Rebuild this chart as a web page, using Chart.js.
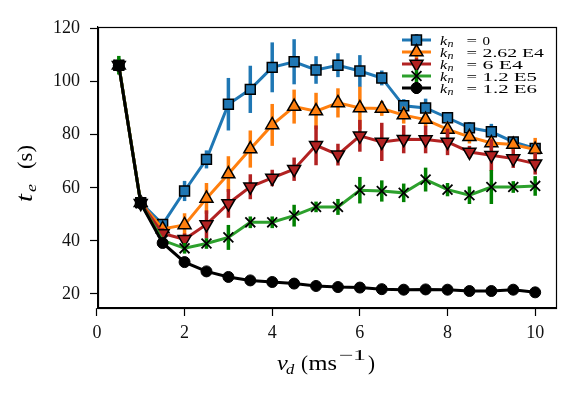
<!DOCTYPE html>
<html><head><meta charset="utf-8">
<script src="https://cdn.jsdelivr.net/npm/chart.js@4/dist/chart.umd.min.js"></script>
<style>html,body{margin:0;padding:0;background:#fff}canvas{display:block}</style>
</head><body>
<canvas id="c" width="581" height="394" style="width:581px;height:394px"></canvas>
<script>
// ---- data ----
const vd = [0.5,1,1.5,2,2.5,3,3.5,4,4.5,5,5.5,6,6.5,7,7.5,8,8.5,9,9.5,10];
const kLabels = ['0', '2.62 E4', '6 E4', '1.2 E5', '1.2 E6'];
const te_k0     = [106.2,54.4,46.2,58.8,70.7,91.5,97.1,105.4,107.5,104.4,106.2,104.0,101.4,90.9,90.1,86.4,82.6,81.1,77.3,74.8];
const err_k0    = [1.5,1.2,1.5,3.8,3.4,9.9,8.9,9.4,8.5,5.2,4.5,6.0,2.8,2.5,3.5,1.5,2.2,3.0,1.3,1.5];
const te_k262e4 = [106.2,54.4,44.5,46.0,56.0,65.2,74.6,83.7,90.6,88.9,92.0,90.1,89.9,87.4,85.7,82.0,79.2,76.9,76.3,74.4];
const err_k262e4= [1.0,1.0,1.5,4.4,5.8,6.7,7.0,7.9,6.4,6.9,5.5,8.0,2.8,3.2,2.6,2.8,2.5,2.5,2.2,4.4];
const te_k6e4   = [106.2,54.2,42.8,40.6,46.2,54.1,60.4,63.7,67.0,76.0,72.5,79.6,77.3,78.3,78.2,77.3,73.5,72.3,71.0,69.1];
const err_k6e4  = [1.0,1.0,2.0,2.2,5.3,5.4,4.7,3.1,4.4,7.5,4.1,6.0,7.2,5.3,5.2,5.0,2.3,6.0,3.5,4.1];
const te_k12e5  = [106.2,54.2,40.2,37.2,39.0,41.3,47.0,47.0,49.5,52.8,52.8,59.1,58.8,58.1,63.1,59.3,57.2,60.3,60.3,60.7];
const err_k12e5 = [3.5,1.0,1.0,2.0,2.0,4.7,2.2,2.2,4.1,2.0,3.0,5.0,4.0,3.5,4.5,2.5,3.3,6.4,2.2,3.7];
const te_k12e6  = [106.0,54.2,39.2,32.0,28.5,26.4,25.1,24.5,23.9,23.0,22.6,22.4,21.8,21.6,21.7,21.6,21.1,21.1,21.6,20.6];
const err_k12e6 = [0.6,0.5,0.5,0.5,0.5,0.5,0.5,0.5,0.5,0.5,0.5,0.5,0.5,0.5,0.5,0.5,0.5,0.5,0.5,0.5];
const xTicks = [0,2,4,6,8,10];
const yTicks = [20,40,60,80,100,120];

// ---- styles ----
const seriesVals = [te_k0, te_k262e4, te_k6e4, te_k12e5, te_k12e6];
const seriesErrs = [err_k0, err_k262e4, err_k6e4, err_k12e5, err_k12e6];
const lineColors = ['#1f77b4','#ff7f0e','#b22222','#2ca02c','#000000'];
const errColors  = ['#1f77b4','#ff7f0e','#b22222','#008000','#000000'];
const marker = [
  {pointStyle:'rect', rotation:0, radius:7, fill:'#1f77b4', bw:1.5},
  {pointStyle:'triangle', rotation:0, radius:7.5, fill:'#ff7f0e', bw:1.5},
  {pointStyle:'triangle', rotation:180, radius:7.5, fill:'#b22222', bw:1.5},
  {pointStyle:'crossRot', rotation:0, radius:7, fill:'#000000', bw:1.8},
  {pointStyle:'circle', rotation:0, radius:5.5, fill:'#000000', bw:1}
];

const datasets = seriesVals.map((vals, i) => ({
  data: vd.map((x, j) => ({x: x, y: vals[j]})),
  borderColor: lineColors[i],
  borderWidth: 3,
  tension: 0,
  fill: false,
  pointStyle: marker[i].pointStyle,
  rotation: marker[i].rotation,
  pointRadius: marker[i].radius,
  pointBackgroundColor: marker[i].fill,
  pointBorderColor: '#000000',
  pointBorderWidth: marker[i].bw,
  order: 5 - i,
  clip: false
}));

const SERIF = '"Liberation Serif", "DejaVu Serif", serif';

function fitText(ctx, s, x0, x1, y, font) {
  ctx.save();
  ctx.font = font;
  const w = ctx.measureText(s).width;
  const sx = (x1 - x0) / w;
  ctx.translate(x0, y);
  ctx.scale(sx, 1);
  ctx.fillText(s, 0, 0);
  ctx.restore();
}
function plainText(ctx, s, x, y, font, sx) {
  ctx.save();
  ctx.font = font;
  ctx.translate(x, y);
  ctx.scale(sx || 1, 1);
  ctx.fillText(s, 0, 0);
  ctx.restore();
}

function drawMarker(ctx, i, x, y) {
  const m = marker[i];
  ctx.save();
  ctx.fillStyle = m.fill;
  ctx.strokeStyle = '#000';
  ctx.lineWidth = m.bw;
  if (Chart.helpers && Chart.helpers.drawPoint) {
    Chart.helpers.drawPoint(ctx, {pointStyle: m.pointStyle, rotation: m.rotation, radius: m.radius, borderWidth: m.bw}, x, y);
  }
  ctx.restore();
}

const errorBarPlugin = {
  id: 'errbars',
  beforeDatasetDraw(chart, args) {
    const i = args.index;
    const ys = chart.scales.y;
    const ctx = chart.ctx;
    const meta = args.meta;
    ctx.save();
    ctx.strokeStyle = errColors[i];
    ctx.lineWidth = 3.5;
    ctx.lineCap = 'butt';
    meta.data.forEach((pt, j) => {
      const v = seriesVals[i][j], e = seriesErrs[i][j];
      ctx.beginPath();
      ctx.moveTo(pt.x, ys.getPixelForValue(v - e));
      ctx.lineTo(pt.x, ys.getPixelForValue(v + e));
      ctx.stroke();
    });
    ctx.restore();
  }
};

const decorPlugin = {
  id: 'decor',
  afterDraw(chart) {
    const ctx = chart.ctx;
    const a = chart.chartArea;
    // frame
    ctx.save();
    ctx.strokeStyle = '#000';
    ctx.lineWidth = 1.2;
    ctx.strokeRect(Math.round(a.left) + 0.5, Math.round(a.top) + 0.5, Math.round(a.right - a.left), Math.round(a.bottom - a.top));
    ctx.restore();

    ctx.save();
    ctx.fillStyle = '#000';
    ctx.textBaseline = 'alphabetic';
    // x title: v_d (ms^-1)
    plainText(ctx, 'v', 277, 370, 'italic 21px ' + SERIF, 1.15);
    plainText(ctx, 'd', 286, 374, 'italic 15px ' + SERIF, 1.1);
    plainText(ctx, '(', 301, 370, '21px ' + SERIF, 1.0);
    fitText(ctx, 'ms', 308.5, 337, 370, '21px ' + SERIF);
    fitText(ctx, '\u22121', 338.5, 366, 360, '15px ' + SERIF);
    plainText(ctx, ')', 368, 370, '21px ' + SERIF, 1.0);

    // y title: t_e (s), rotated
    ctx.save();
    ctx.rotate(-Math.PI / 2);
    plainText(ctx, 't', -202, 32, 'italic 23px ' + SERIF, 1.25);
    plainText(ctx, 'e', -192, 36, 'italic 15px ' + SERIF, 1.2);
    fitText(ctx, '(s)', -169, -145, 32, '21px ' + SERIF);
    ctx.restore();

    // legend
    const ends = [490, 544, 523, 537, 537];
    for (let i = 0; i < 5; i++) {
      const cy = 40 + 12 * i;
      ctx.save();
      ctx.strokeStyle = lineColors[i];
      ctx.lineWidth = 3;
      ctx.beginPath(); ctx.moveTo(402, cy); ctx.lineTo(431, cy); ctx.stroke();
      ctx.strokeStyle = errColors[i];
      ctx.lineWidth = 3.5;
      ctx.beginPath(); ctx.moveTo(416.5, cy - 6); ctx.lineTo(416.5, cy + 6); ctx.stroke();
      ctx.restore();
      drawMarker(ctx, i, 416.5, cy);
      ctx.fillStyle = '#000';
      plainText(ctx, 'k', 440, cy + 4.5, 'italic 13.5px ' + SERIF, 1.2);
      plainText(ctx, 'n', 447.5, cy + 7, 'italic 10px ' + SERIF, 1.2);
      fitText(ctx, '=', 466.5, 477, cy + 4.5, '13.5px ' + SERIF);
      fitText(ctx, kLabels[i], 482.5, ends[i], cy + 4.5, '13.5px ' + SERIF);
    }
    ctx.restore();
  }
};

new Chart(document.getElementById('c'), {
  type: 'line',
  data: { datasets: datasets },
  options: {
    responsive: false,
    devicePixelRatio: 1,
    animation: false,
    layout: { padding: { left: 0, right: 25, top: 27, bottom: 0 } },
    plugins: { legend: { display: false }, tooltip: { enabled: false } },
    scales: {
      x: {
        type: 'linear', min: 0.025, max: 10.475,
        afterBuildTicks: (s) => { s.ticks = xTicks.map(v => ({value: v})); },
        afterFit: (s) => { s.height = 86; },
        grid: { drawOnChartArea: false, drawTicks: true, tickLength: 8, tickColor: '#000', tickWidth: 1.2 },
        border: { display: true, color: '#000', width: 1.2 },
        ticks: { font: { family: SERIF, size: 18 }, color: '#111', padding: 6, maxRotation: 0, autoSkip: false,
                 callback: (v) => String(v) }
      },
      y: {
        type: 'linear', min: 14.7, max: 120.6,
        afterBuildTicks: (s) => { s.ticks = yTicks.map(v => ({value: v})); },
        afterFit: (s) => { s.width = 98; },
        grid: { drawOnChartArea: false, drawTicks: true, tickLength: 8, tickColor: '#000', tickWidth: 1.2 },
        border: { display: true, color: '#000', width: 1.2 },
        ticks: { font: { family: SERIF, size: 18 }, color: '#111', padding: 10, autoSkip: false,
                 callback: (v) => String(v) }
      }
    }
  },
  plugins: [errorBarPlugin, decorPlugin]
});
</script>
</body></html>
